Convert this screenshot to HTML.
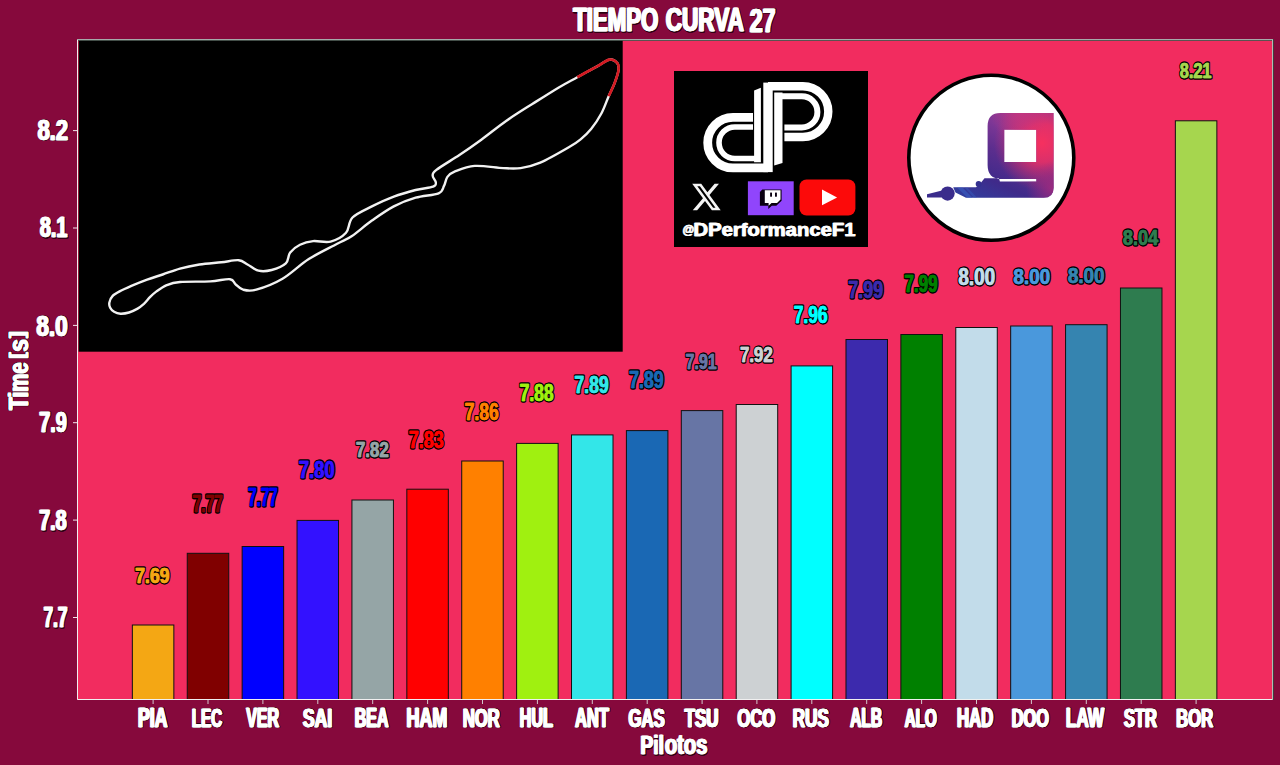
<!DOCTYPE html>
<html><head><meta charset="utf-8"><title>Tiempo Curva 27</title>
<style>
html,body{margin:0;padding:0;background:#86093c;overflow:hidden;}
svg{display:block;}
text{font-family:"Liberation Sans",sans-serif;font-weight:bold;}
</style></head><body>
<svg width="1280" height="765" viewBox="0 0 1280 765">
<defs>
<linearGradient id="gg" gradientUnits="userSpaceOnUse" x1="965" y1="200" x2="1005" y2="112">
<stop offset="0" stop-color="#2f40a0"/><stop offset="0.3" stop-color="#3f2a8a"/><stop offset="0.6" stop-color="#5c2e8e"/><stop offset="0.85" stop-color="#7e3796"/><stop offset="1" stop-color="#8e3994"/>
</linearGradient>
<radialGradient id="gr" gradientUnits="userSpaceOnUse" cx="1042" cy="143" r="48">
<stop offset="0" stop-color="#f6305f" stop-opacity="1"/><stop offset="0.4" stop-color="#ee2f63" stop-opacity="0.85"/><stop offset="1" stop-color="#d02f6c" stop-opacity="0"/>
</radialGradient>
<radialGradient id="gr2" gradientUnits="userSpaceOnUse" cx="1052" cy="188" r="26">
<stop offset="0" stop-color="#a02a7e" stop-opacity="0.9"/><stop offset="1" stop-color="#a02a7e" stop-opacity="0"/>
</radialGradient>
<radialGradient id="gr3" gradientUnits="userSpaceOnUse" cx="1020" cy="112" r="30">
<stop offset="0" stop-color="#c8357e" stop-opacity="0.8"/><stop offset="1" stop-color="#c8357e" stop-opacity="0"/>
</radialGradient>
<text id="t1" transform="translate(682.59 234.21) scale(0.9554 1)" font-size="12.41">@</text>
<text id="t2" transform="translate(693.43 235.97) scale(1.1115 1)" font-size="18.24">DPerformanceF1</text>
<text id="t3" transform="translate(37.54 139.80) scale(0.7298 1)" font-size="30.00">8.2</text>
<text id="t4" transform="translate(39.91 237.11) scale(0.6757 1)" font-size="29.15">8.1</text>
<text id="t5" transform="translate(36.43 335.71) scale(0.7805 1)" font-size="28.73">8.0</text>
<text id="t6" transform="translate(39.21 431.71) scale(0.6775 1)" font-size="29.30">7.9</text>
<text id="t7" transform="translate(39.21 529.91) scale(0.6691 1)" font-size="29.44">7.8</text>
<text id="t8" transform="translate(43.51 627.30) scale(0.5698 1)" font-size="30.14">7.7</text>
<text id="t9" transform="translate(138.01 726.80) scale(0.6475 1)" font-size="27.25">PIA</text>
<text id="t10" transform="translate(191.79 726.54) scale(0.5725 1)" font-size="26.48">LEC</text>
<text id="t11" transform="translate(246.29 726.80) scale(0.5832 1)" font-size="27.25">VER</text>
<text id="t12" transform="translate(302.82 726.54) scale(0.6663 1)" font-size="26.48">SAI</text>
<text id="t13" transform="translate(354.73 726.80) scale(0.5861 1)" font-size="27.25">BEA</text>
<text id="t14" transform="translate(406.49 726.80) scale(0.6586 1)" font-size="27.25">HAM</text>
<text id="t15" transform="translate(462.79 726.54) scale(0.6277 1)" font-size="26.48">NOR</text>
<text id="t16" transform="translate(519.72 726.53) scale(0.6003 1)" font-size="26.86">HUL</text>
<text id="t17" transform="translate(575.06 726.80) scale(0.6032 1)" font-size="27.25">ANT</text>
<text id="t18" transform="translate(628.48 726.54) scale(0.6306 1)" font-size="26.48">GAS</text>
<text id="t19" transform="translate(684.68 726.54) scale(0.6379 1)" font-size="26.48">TSU</text>
<text id="t20" transform="translate(737.39 726.54) scale(0.6266 1)" font-size="26.48">OCO</text>
<text id="t21" transform="translate(792.65 726.54) scale(0.6477 1)" font-size="26.48">RUS</text>
<text id="t22" transform="translate(850.18 726.80) scale(0.5709 1)" font-size="27.25">ALB</text>
<text id="t23" transform="translate(904.69 726.54) scale(0.5739 1)" font-size="26.48">ALO</text>
<text id="t24" transform="translate(956.98 726.80) scale(0.6141 1)" font-size="27.25">HAD</text>
<text id="t25" transform="translate(1011.71 726.54) scale(0.6161 1)" font-size="26.48">DOO</text>
<text id="t26" transform="translate(1065.85 726.80) scale(0.6316 1)" font-size="27.25">LAW</text>
<text id="t27" transform="translate(1123.96 726.54) scale(0.6217 1)" font-size="26.48">STR</text>
<text id="t28" transform="translate(1176.19 726.54) scale(0.6277 1)" font-size="26.48">BOR</text>
<text id="t29" transform="translate(135.04 582.67) scale(0.7829 1)" font-size="22.68">7.69</text>
<text id="t30" transform="translate(192.63 511.60) scale(0.6577 1)" font-size="23.62">7.77</text>
<text id="t31" transform="translate(248.14 505.60) scale(0.6047 1)" font-size="25.07">7.77</text>
<text id="t32" transform="translate(298.92 478.16) scale(0.7634 1)" font-size="23.94">7.80</text>
<text id="t33" transform="translate(355.87 456.68) scale(0.7691 1)" font-size="21.97">7.82</text>
<text id="t34" transform="translate(408.73 447.66) scale(0.7571 1)" font-size="23.80">7.83</text>
<text id="t35" transform="translate(464.65 419.66) scale(0.7326 1)" font-size="23.94">7.86</text>
<text id="t36" transform="translate(519.65 400.76) scale(0.7373 1)" font-size="23.66">7.88</text>
<text id="t37" transform="translate(574.45 392.86) scale(0.7413 1)" font-size="23.66">7.89</text>
<text id="t38" transform="translate(629.14 388.27) scale(0.7663 1)" font-size="23.10">7.89</text>
<text id="t39" transform="translate(685.51 368.87) scale(0.6974 1)" font-size="22.96">7.91</text>
<text id="t40" transform="translate(739.98 361.67) scale(0.7451 1)" font-size="22.54">7.92</text>
<text id="t41" transform="translate(793.75 322.56) scale(0.7281 1)" font-size="23.94">7.96</text>
<text id="t42" transform="translate(848.23 297.66) scale(0.7504 1)" font-size="23.94">7.99</text>
<text id="t43" transform="translate(904.47 292.47) scale(0.7385 1)" font-size="23.10">7.99</text>
<text id="t44" transform="translate(958.39 284.77) scale(0.8100 1)" font-size="23.24">8.00</text>
<text id="t45" transform="translate(1013.38 283.77) scale(0.8325 1)" font-size="22.68">8.00</text>
<text id="t46" transform="translate(1067.78 283.08) scale(0.8703 1)" font-size="21.69">8.00</text>
<text id="t47" transform="translate(1122.91 244.67) scale(0.7989 1)" font-size="22.68">8.04</text>
<text id="t48" transform="translate(1179.76 77.58) scale(0.7370 1)" font-size="22.18">8.21</text>
<text id="t49" transform="translate(573.18 31.17) scale(0.6678 1)" font-size="33.24">TIEMPO</text>
<text id="t50" transform="translate(665.70 31.17) scale(0.6798 1)" font-size="33.24">CURVA</text>
<text id="t51" transform="translate(749.81 31.50) scale(0.6845 1)" font-size="33.71">27</text>
<text id="t52" transform="translate(640.46 754.20) scale(0.7212 1)" font-size="26.58">Pil</text>
<text id="t53" transform="translate(664.79 754.32) scale(0.7324 1)" font-size="27.58">otos</text>
<text id="t54" transform="translate(0.40 -0.17) scale(0.7656 1)" font-size="26.76">Time</text>
<text id="t55" transform="translate(51.67 -4.23) scale(0.9132 1)" font-size="20.64">[</text>
<text id="t56" transform="translate(58.50 -0.18) scale(0.8161 1)" font-size="27.64">s</text>
<text id="t57" transform="translate(72.20 -4.23) scale(0.9870 1)" font-size="20.64">]</text>
</defs>
<rect width="1280" height="765" fill="#86093c"/>
<rect x="77" y="39" width="1196" height="661" fill="#f22c5f"/>
<rect x="78.6" y="40" width="544.1" height="311.7" fill="#000"/>
<path d="M109.4 302.4 C109.8 300.4 110.8 297.9 112.5 296.1 C114.2 294.3 116.4 293.1 119.6 291.4 C122.8 289.7 126.8 287.9 131.4 285.9 C136.0 283.9 141.9 281.5 147.1 279.6 C152.3 277.7 157.2 276.3 162.7 274.5 C168.2 272.7 173.9 270.3 180.0 268.6 C186.1 266.9 192.5 265.6 199.4 264.5 C206.3 263.4 214.7 263.0 221.3 262.3 C227.9 261.6 234.4 259.8 238.8 260.2 C243.2 260.6 244.2 262.8 247.5 264.5 C250.8 266.2 254.5 269.8 258.5 270.7 C262.5 271.6 267.1 271.2 271.6 270.0 C276.2 268.8 282.7 266.3 285.8 263.4 C288.9 260.5 287.8 255.6 290.2 252.5 C292.6 249.4 296.2 246.7 300.0 244.8 C303.8 242.9 308.0 241.6 313.1 241.1 C318.2 240.6 325.1 243.0 330.6 241.6 C336.1 240.2 342.4 236.8 346.0 232.8 C349.6 228.8 348.2 221.9 352.5 217.5 C356.8 213.1 365.0 209.9 371.9 206.4 C378.8 202.9 386.5 199.3 393.8 196.6 C401.1 193.9 409.1 191.7 415.6 190.0 C422.2 188.3 429.7 188.0 433.1 186.7 C436.5 185.4 435.9 184.1 435.8 182.3 C435.7 180.5 432.6 177.9 432.7 175.8 C432.8 173.7 431.9 173.4 436.4 169.9 C440.8 166.4 451.9 160.0 459.4 155.0 C466.9 150.0 473.5 145.4 481.3 139.7 C489.1 134.0 497.6 127.0 506.1 121.0 C514.6 115.0 523.6 109.5 532.3 104.0 C541.0 98.5 550.9 92.2 558.4 87.7 C565.9 83.2 570.8 80.8 577.3 77.2 C583.8 73.6 592.2 69.0 597.6 66.1 C603.0 63.2 606.1 60.1 609.4 59.6 C612.7 59.1 615.7 61.1 617.2 62.9 C618.7 64.6 618.9 66.7 618.5 70.1 C618.1 73.5 616.2 78.8 614.6 83.1 C613.0 87.4 610.9 91.2 608.7 96.2 C606.5 101.2 604.4 107.8 601.5 113.2 C598.6 118.7 594.6 124.6 591.1 128.9 C587.6 133.2 584.3 136.2 580.6 139.3 C576.9 142.4 575.5 143.4 568.8 147.3 C562.1 151.2 548.3 159.2 540.3 162.7 C532.3 166.2 526.8 167.2 520.6 168.1 C514.4 169.0 510.8 168.5 503.1 168.1 C495.5 167.7 482.7 165.3 474.7 165.9 C466.7 166.5 459.6 169.6 455.0 171.4 C450.4 173.2 449.2 174.5 447.4 176.9 C445.6 179.3 445.6 182.9 444.1 185.6 C442.6 188.3 443.4 191.3 438.6 193.3 C433.9 195.3 423.1 195.5 415.6 197.7 C408.1 199.9 401.1 202.6 393.8 206.4 C386.5 210.2 378.9 215.7 371.9 220.6 C364.9 225.5 357.8 232.1 352.0 236.0 C346.2 239.9 344.4 240.0 337.2 243.8 C330.0 247.7 317.9 253.3 308.8 259.1 C299.7 264.9 291.2 273.7 282.5 278.8 C273.8 283.9 262.9 287.9 256.3 289.7 C249.7 291.5 246.6 290.6 243.1 289.7 C239.6 288.8 237.7 285.9 235.5 284.2 C233.3 282.4 234.2 279.7 230.0 279.2 C225.8 278.7 218.6 280.9 210.3 281.4 C202.0 281.9 187.3 281.4 180.0 282.0 C172.7 282.6 170.6 283.5 166.7 285.1 C162.8 286.7 159.2 289.4 156.5 291.4 C153.8 293.4 152.3 294.8 150.2 296.9 C148.1 299.0 146.0 301.9 143.9 303.9 C141.8 305.8 140.1 307.2 137.6 308.6 C135.1 310.0 131.9 311.6 129.0 312.5 C126.1 313.4 122.9 313.8 120.4 313.7 C117.9 313.6 115.8 312.8 114.1 311.8 C112.4 310.8 111.0 309.4 110.2 307.8 C109.4 306.2 109.0 304.3 109.4 302.4 Z" fill="none" stroke="#f2f2f2" stroke-width="2.4" stroke-linejoin="round"/>
<path d="M577.3 77.2 C583.8 73.6 592.2 69.0 597.6 66.1 C603.0 63.2 606.1 60.1 609.4 59.6 C612.7 59.1 615.7 61.1 617.2 62.9 C618.7 64.6 618.9 66.7 618.5 70.1 C618.1 73.5 616.2 78.8 614.6 83.1 C613.0 87.4 610.9 91.2 608.7 96.2" fill="none" stroke="#d31a22" stroke-width="2.7" stroke-linecap="butt"/>
<rect x="674" y="71" width="194" height="176" fill="#000"/>
<g fill="none" stroke="#fff">
<path d="M753 117.35 H733 A25.3 25.3 0 0 0 733 167.95 H768" stroke-width="8.8"/>
<path d="M753 126.95 H734.8 A15.8 15.8 0 0 0 734.8 158.55 H758" stroke-width="5.6"/>
<path d="M768 86.2 H802.9 A25.4 25.4 0 0 1 802.9 137 H784.4" stroke-width="8.4"/>
<path d="M778 96.3 H801.8 A15.6 15.6 0 0 1 801.8 127.5 H784.4" stroke-width="6"/>
</g>
<g fill="#fff">
<rect x="763.3" y="82.6" width="9.4" height="89.5"/>
<polygon points="754.1,90.4 760.9,87.8 760.9,162.3 754.1,162.3"/>
<polygon points="774.2,92.4 782.5,92.4 782.5,163 774.2,165.6"/>
</g>
<path transform="translate(692.2 183.8) scale(1.32 1.36) translate(-1.254 -2.25)" d="M18.244 2.25h3.308l-7.227 8.26 8.502 11.24H16.17l-5.214-6.817L4.99 21.75H1.68l7.73-8.835L1.254 2.25H8.08l4.713 6.231zm-1.161 17.52h1.833L7.084 4.126H5.117z" fill="#f4f4f4"/>
<rect x="747.9" y="181.3" width="45.8" height="33.9" fill="#9045fc"/>
<path d="M762.3 189.4 H781.6 V200.8 L776.3 205.8 H771.8 L768.3 209 V205.8 H759.9 V191.9 Z" fill="#0a0010"/>
<path d="M764.8 190.3 H780.5 V199.6 L777 203 H771.5 L768.6 205.7 V203 H764.8 Z" fill="#fff"/>
<rect x="770.1" y="192.6" width="1.9" height="4.1" fill="#0a0010"/><rect x="775" y="192.6" width="1.9" height="4.1" fill="#0a0010"/>
<rect x="799.5" y="179.4" width="55.9" height="36.1" rx="7" fill="#fc0a0a"/>
<path d="M822 189.6 L837.1 197.5 L822 205.3 Z" fill="#fff"/>
<g fill="#fff" stroke="#fff" stroke-width="0.30" stroke-linejoin="round">
<use href="#t1" x="-0.30"/>
<use href="#t1" x="0.30"/>
</g>
<g fill="#fff" stroke="#fff" stroke-width="0.35" stroke-linejoin="round">
<use href="#t2" x="-0.35"/>
<use href="#t2" x="0.35"/>
</g>
<circle cx="991.3" cy="157.8" r="82.5" fill="#fff" stroke="#000" stroke-width="3.6"/>
<g>
<path d="M1000.6 113.1 H1053.6 V187.8 Q1053.6 197.8 1043.6 197.8 H966 L955.5 192.5 L953.2 187.3 H976 L979.5 184.5 L984.5 178.3 H999 L999.9 181.5 H1036.3 V178.9 H1001 Q987.6 178.9 987.6 165 V126.1 Q987.6 113.1 1000.6 113.1 Z M1004.3 129.8 V161.9 H1036.3 V129.8 Z" fill="url(#gg)" fill-rule="evenodd"/>
<path d="M1000.6 113.1 H1053.6 V187.8 Q1053.6 197.8 1043.6 197.8 H990 V181.5 H1036.3 V178.9 H1001 Q987.6 178.9 987.6 165 V126.1 Q987.6 113.1 1000.6 113.1 Z M1004.3 129.8 V161.9 H1036.3 V129.8 Z" fill="url(#gr)" fill-rule="evenodd"/>
<path d="M1000.6 113.1 H1053.6 V187.8 Q1053.6 197.8 1043.6 197.8 H990 V181.5 H1036.3 V178.9 H1001 Q987.6 178.9 987.6 165 V126.1 Q987.6 113.1 1000.6 113.1 Z M1004.3 129.8 V161.9 H1036.3 V129.8 Z" fill="url(#gr2)" fill-rule="evenodd"/>
<path d="M1000.6 113.1 H1053.6 V140 H987.6 V126.1 Q987.6 113.1 1000.6 113.1 Z M1004.3 129.8 V140 H1036.3 V129.8 Z" fill="url(#gr3)" fill-rule="evenodd"/>
<path d="M957 187.4 H962.5 L972.5 197.8 H967.5 Z" fill="#3a62c4" opacity="0.55"/>
<path d="M964.5 187.4 H967.5 L977 197.8 H974 Z" fill="#3a62c4" opacity="0.4"/>
<circle cx="978.6" cy="183.9" r="2.9" fill="#33308f"/>
<circle cx="947.6" cy="193.6" r="7.1" fill="#3a2c8c"/>
<path d="M927 194.3 L941 190.8 L943 197.6 H927 Z" fill="#3a2c8c"/>
</g>
<rect x="132.35" y="625.00" width="41.5" height="74.50" fill="#f4a714" stroke="#111" stroke-width="1"/>
<rect x="187.25" y="553.30" width="41.5" height="146.20" fill="#800000" stroke="#111" stroke-width="1"/>
<rect x="242.14" y="546.50" width="41.5" height="153.00" fill="#0000ff" stroke="#111" stroke-width="1"/>
<rect x="297.03" y="520.40" width="41.5" height="179.10" fill="#3311ff" stroke="#111" stroke-width="1"/>
<rect x="351.93" y="500.00" width="41.5" height="199.50" fill="#95a5a6" stroke="#111" stroke-width="1"/>
<rect x="406.83" y="489.20" width="41.5" height="210.30" fill="#ff0000" stroke="#111" stroke-width="1"/>
<rect x="461.72" y="461.00" width="41.5" height="238.50" fill="#ff8000" stroke="#111" stroke-width="1"/>
<rect x="516.62" y="443.40" width="41.5" height="256.10" fill="#a0f010" stroke="#111" stroke-width="1"/>
<rect x="571.51" y="434.90" width="41.5" height="264.60" fill="#33e6e8" stroke="#111" stroke-width="1"/>
<rect x="626.40" y="430.60" width="41.5" height="268.90" fill="#1a68b4" stroke="#111" stroke-width="1"/>
<rect x="681.30" y="410.60" width="41.5" height="288.90" fill="#6775a5" stroke="#111" stroke-width="1"/>
<rect x="736.20" y="404.50" width="41.5" height="295.00" fill="#cdd1d3" stroke="#111" stroke-width="1"/>
<rect x="791.09" y="365.90" width="41.5" height="333.60" fill="#00ffff" stroke="#111" stroke-width="1"/>
<rect x="845.99" y="339.50" width="41.5" height="360.00" fill="#3c2aad" stroke="#111" stroke-width="1"/>
<rect x="900.88" y="334.50" width="41.5" height="365.00" fill="#008000" stroke="#111" stroke-width="1"/>
<rect x="955.78" y="327.50" width="41.5" height="372.00" fill="#c2dcea" stroke="#111" stroke-width="1"/>
<rect x="1010.67" y="326.00" width="41.5" height="373.50" fill="#4a98dc" stroke="#111" stroke-width="1"/>
<rect x="1065.57" y="324.70" width="41.5" height="374.80" fill="#3584b0" stroke="#111" stroke-width="1"/>
<rect x="1120.46" y="288.00" width="41.5" height="411.50" fill="#2e7c4f" stroke="#111" stroke-width="1"/>
<rect x="1175.36" y="120.80" width="41.5" height="578.70" fill="#a6d64e" stroke="#111" stroke-width="1"/>
<path d="M77.5 39 V699.5 H1273" fill="none" stroke="#f0f0f0" stroke-width="1"/>
<path d="M1272.5 39 V700" fill="none" stroke="#b4b8b4" stroke-width="1"/>
<path d="M1273.5 39 V700" fill="none" stroke="#3a423e" stroke-width="1" opacity="0.9"/>
<path d="M77 39.5 H1273" fill="none" stroke="#a6aaaa" stroke-width="1"/>
<path d="M78 40.5 H1272" fill="none" stroke="#4a5650" stroke-width="1" opacity="0.9"/>
<line x1="73" x2="77" y1="130.6" y2="130.6" stroke="#fff" stroke-width="0.9"/>
<line x1="73" x2="77" y1="228.0" y2="228.0" stroke="#fff" stroke-width="0.9"/>
<line x1="73" x2="77" y1="325.4" y2="325.4" stroke="#fff" stroke-width="0.9"/>
<line x1="73" x2="77" y1="422.7" y2="422.7" stroke="#fff" stroke-width="0.9"/>
<line x1="73" x2="77" y1="520.1" y2="520.1" stroke="#fff" stroke-width="0.9"/>
<line x1="73" x2="77" y1="617.5" y2="617.5" stroke="#fff" stroke-width="0.9"/>
<line x1="153.1" x2="153.1" y1="700" y2="704" stroke="#ddd" stroke-width="0.9"/>
<line x1="208.0" x2="208.0" y1="700" y2="704" stroke="#ddd" stroke-width="0.9"/>
<line x1="262.9" x2="262.9" y1="700" y2="704" stroke="#ddd" stroke-width="0.9"/>
<line x1="317.8" x2="317.8" y1="700" y2="704" stroke="#ddd" stroke-width="0.9"/>
<line x1="372.7" x2="372.7" y1="700" y2="704" stroke="#ddd" stroke-width="0.9"/>
<line x1="427.6" x2="427.6" y1="700" y2="704" stroke="#ddd" stroke-width="0.9"/>
<line x1="482.5" x2="482.5" y1="700" y2="704" stroke="#ddd" stroke-width="0.9"/>
<line x1="537.4" x2="537.4" y1="700" y2="704" stroke="#ddd" stroke-width="0.9"/>
<line x1="592.3" x2="592.3" y1="700" y2="704" stroke="#ddd" stroke-width="0.9"/>
<line x1="647.2" x2="647.2" y1="700" y2="704" stroke="#ddd" stroke-width="0.9"/>
<line x1="702.1" x2="702.1" y1="700" y2="704" stroke="#ddd" stroke-width="0.9"/>
<line x1="756.9" x2="756.9" y1="700" y2="704" stroke="#ddd" stroke-width="0.9"/>
<line x1="811.8" x2="811.8" y1="700" y2="704" stroke="#ddd" stroke-width="0.9"/>
<line x1="866.7" x2="866.7" y1="700" y2="704" stroke="#ddd" stroke-width="0.9"/>
<line x1="921.6" x2="921.6" y1="700" y2="704" stroke="#ddd" stroke-width="0.9"/>
<line x1="976.5" x2="976.5" y1="700" y2="704" stroke="#ddd" stroke-width="0.9"/>
<line x1="1031.4" x2="1031.4" y1="700" y2="704" stroke="#ddd" stroke-width="0.9"/>
<line x1="1086.3" x2="1086.3" y1="700" y2="704" stroke="#ddd" stroke-width="0.9"/>
<line x1="1141.2" x2="1141.2" y1="700" y2="704" stroke="#ddd" stroke-width="0.9"/>
<line x1="1196.1" x2="1196.1" y1="700" y2="704" stroke="#ddd" stroke-width="0.9"/>
<g fill="#2a0010" stroke="#2a0010" stroke-width="1.10" stroke-linejoin="round">
<use href="#t3" x="0.00" y="0.60"/>
<use href="#t3" x="0.60" y="0.60"/>
<use href="#t3" x="1.20" y="0.60"/>
</g>
<g fill="#fff" stroke="#fff" stroke-width="0.40" stroke-linejoin="round">
<use href="#t3" x="-0.60"/>
<use href="#t3" x="0.00"/>
<use href="#t3" x="0.60"/>
</g>
<g fill="#2a0010" stroke="#2a0010" stroke-width="1.10" stroke-linejoin="round">
<use href="#t4" x="0.00" y="0.60"/>
<use href="#t4" x="0.60" y="0.60"/>
<use href="#t4" x="1.20" y="0.60"/>
</g>
<g fill="#fff" stroke="#fff" stroke-width="0.40" stroke-linejoin="round">
<use href="#t4" x="-0.60"/>
<use href="#t4" x="0.00"/>
<use href="#t4" x="0.60"/>
</g>
<g fill="#2a0010" stroke="#2a0010" stroke-width="1.10" stroke-linejoin="round">
<use href="#t5" x="0.00" y="0.60"/>
<use href="#t5" x="0.60" y="0.60"/>
<use href="#t5" x="1.20" y="0.60"/>
</g>
<g fill="#fff" stroke="#fff" stroke-width="0.40" stroke-linejoin="round">
<use href="#t5" x="-0.60"/>
<use href="#t5" x="0.00"/>
<use href="#t5" x="0.60"/>
</g>
<g fill="#2a0010" stroke="#2a0010" stroke-width="1.10" stroke-linejoin="round">
<use href="#t6" x="0.00" y="0.60"/>
<use href="#t6" x="0.60" y="0.60"/>
<use href="#t6" x="1.20" y="0.60"/>
</g>
<g fill="#fff" stroke="#fff" stroke-width="0.40" stroke-linejoin="round">
<use href="#t6" x="-0.60"/>
<use href="#t6" x="0.00"/>
<use href="#t6" x="0.60"/>
</g>
<g fill="#2a0010" stroke="#2a0010" stroke-width="1.10" stroke-linejoin="round">
<use href="#t7" x="0.00" y="0.60"/>
<use href="#t7" x="0.60" y="0.60"/>
<use href="#t7" x="1.20" y="0.60"/>
</g>
<g fill="#fff" stroke="#fff" stroke-width="0.40" stroke-linejoin="round">
<use href="#t7" x="-0.60"/>
<use href="#t7" x="0.00"/>
<use href="#t7" x="0.60"/>
</g>
<g fill="#2a0010" stroke="#2a0010" stroke-width="1.10" stroke-linejoin="round">
<use href="#t8" x="0.00" y="0.60"/>
<use href="#t8" x="0.60" y="0.60"/>
<use href="#t8" x="1.20" y="0.60"/>
</g>
<g fill="#fff" stroke="#fff" stroke-width="0.40" stroke-linejoin="round">
<use href="#t8" x="-0.60"/>
<use href="#t8" x="0.00"/>
<use href="#t8" x="0.60"/>
</g>
<g fill="#2a0010" stroke="#2a0010" stroke-width="1.10" stroke-linejoin="round">
<use href="#t9" x="-0.05" y="0.60"/>
<use href="#t9" x="0.38" y="0.60"/>
<use href="#t9" x="0.82" y="0.60"/>
<use href="#t9" x="1.25" y="0.60"/>
</g>
<g fill="#fff" stroke="#fff" stroke-width="0.40" stroke-linejoin="round">
<use href="#t9" x="-0.65"/>
<use href="#t9" x="-0.22"/>
<use href="#t9" x="0.22"/>
<use href="#t9" x="0.65"/>
</g>
<g fill="#2a0010" stroke="#2a0010" stroke-width="1.10" stroke-linejoin="round">
<use href="#t10" x="-0.05" y="0.60"/>
<use href="#t10" x="0.38" y="0.60"/>
<use href="#t10" x="0.82" y="0.60"/>
<use href="#t10" x="1.25" y="0.60"/>
</g>
<g fill="#fff" stroke="#fff" stroke-width="0.40" stroke-linejoin="round">
<use href="#t10" x="-0.65"/>
<use href="#t10" x="-0.22"/>
<use href="#t10" x="0.22"/>
<use href="#t10" x="0.65"/>
</g>
<g fill="#2a0010" stroke="#2a0010" stroke-width="1.10" stroke-linejoin="round">
<use href="#t11" x="-0.05" y="0.60"/>
<use href="#t11" x="0.38" y="0.60"/>
<use href="#t11" x="0.82" y="0.60"/>
<use href="#t11" x="1.25" y="0.60"/>
</g>
<g fill="#fff" stroke="#fff" stroke-width="0.40" stroke-linejoin="round">
<use href="#t11" x="-0.65"/>
<use href="#t11" x="-0.22"/>
<use href="#t11" x="0.22"/>
<use href="#t11" x="0.65"/>
</g>
<g fill="#2a0010" stroke="#2a0010" stroke-width="1.10" stroke-linejoin="round">
<use href="#t12" x="-0.05" y="0.60"/>
<use href="#t12" x="0.38" y="0.60"/>
<use href="#t12" x="0.82" y="0.60"/>
<use href="#t12" x="1.25" y="0.60"/>
</g>
<g fill="#fff" stroke="#fff" stroke-width="0.40" stroke-linejoin="round">
<use href="#t12" x="-0.65"/>
<use href="#t12" x="-0.22"/>
<use href="#t12" x="0.22"/>
<use href="#t12" x="0.65"/>
</g>
<g fill="#2a0010" stroke="#2a0010" stroke-width="1.10" stroke-linejoin="round">
<use href="#t13" x="-0.05" y="0.60"/>
<use href="#t13" x="0.38" y="0.60"/>
<use href="#t13" x="0.82" y="0.60"/>
<use href="#t13" x="1.25" y="0.60"/>
</g>
<g fill="#fff" stroke="#fff" stroke-width="0.40" stroke-linejoin="round">
<use href="#t13" x="-0.65"/>
<use href="#t13" x="-0.22"/>
<use href="#t13" x="0.22"/>
<use href="#t13" x="0.65"/>
</g>
<g fill="#2a0010" stroke="#2a0010" stroke-width="1.10" stroke-linejoin="round">
<use href="#t14" x="-0.05" y="0.60"/>
<use href="#t14" x="0.38" y="0.60"/>
<use href="#t14" x="0.82" y="0.60"/>
<use href="#t14" x="1.25" y="0.60"/>
</g>
<g fill="#fff" stroke="#fff" stroke-width="0.40" stroke-linejoin="round">
<use href="#t14" x="-0.65"/>
<use href="#t14" x="-0.22"/>
<use href="#t14" x="0.22"/>
<use href="#t14" x="0.65"/>
</g>
<g fill="#2a0010" stroke="#2a0010" stroke-width="1.10" stroke-linejoin="round">
<use href="#t15" x="-0.05" y="0.60"/>
<use href="#t15" x="0.38" y="0.60"/>
<use href="#t15" x="0.82" y="0.60"/>
<use href="#t15" x="1.25" y="0.60"/>
</g>
<g fill="#fff" stroke="#fff" stroke-width="0.40" stroke-linejoin="round">
<use href="#t15" x="-0.65"/>
<use href="#t15" x="-0.22"/>
<use href="#t15" x="0.22"/>
<use href="#t15" x="0.65"/>
</g>
<g fill="#2a0010" stroke="#2a0010" stroke-width="1.10" stroke-linejoin="round">
<use href="#t16" x="-0.05" y="0.60"/>
<use href="#t16" x="0.38" y="0.60"/>
<use href="#t16" x="0.82" y="0.60"/>
<use href="#t16" x="1.25" y="0.60"/>
</g>
<g fill="#fff" stroke="#fff" stroke-width="0.40" stroke-linejoin="round">
<use href="#t16" x="-0.65"/>
<use href="#t16" x="-0.22"/>
<use href="#t16" x="0.22"/>
<use href="#t16" x="0.65"/>
</g>
<g fill="#2a0010" stroke="#2a0010" stroke-width="1.10" stroke-linejoin="round">
<use href="#t17" x="-0.05" y="0.60"/>
<use href="#t17" x="0.38" y="0.60"/>
<use href="#t17" x="0.82" y="0.60"/>
<use href="#t17" x="1.25" y="0.60"/>
</g>
<g fill="#fff" stroke="#fff" stroke-width="0.40" stroke-linejoin="round">
<use href="#t17" x="-0.65"/>
<use href="#t17" x="-0.22"/>
<use href="#t17" x="0.22"/>
<use href="#t17" x="0.65"/>
</g>
<g fill="#2a0010" stroke="#2a0010" stroke-width="1.10" stroke-linejoin="round">
<use href="#t18" x="-0.05" y="0.60"/>
<use href="#t18" x="0.38" y="0.60"/>
<use href="#t18" x="0.82" y="0.60"/>
<use href="#t18" x="1.25" y="0.60"/>
</g>
<g fill="#fff" stroke="#fff" stroke-width="0.40" stroke-linejoin="round">
<use href="#t18" x="-0.65"/>
<use href="#t18" x="-0.22"/>
<use href="#t18" x="0.22"/>
<use href="#t18" x="0.65"/>
</g>
<g fill="#2a0010" stroke="#2a0010" stroke-width="1.10" stroke-linejoin="round">
<use href="#t19" x="-0.05" y="0.60"/>
<use href="#t19" x="0.38" y="0.60"/>
<use href="#t19" x="0.82" y="0.60"/>
<use href="#t19" x="1.25" y="0.60"/>
</g>
<g fill="#fff" stroke="#fff" stroke-width="0.40" stroke-linejoin="round">
<use href="#t19" x="-0.65"/>
<use href="#t19" x="-0.22"/>
<use href="#t19" x="0.22"/>
<use href="#t19" x="0.65"/>
</g>
<g fill="#2a0010" stroke="#2a0010" stroke-width="1.10" stroke-linejoin="round">
<use href="#t20" x="-0.05" y="0.60"/>
<use href="#t20" x="0.38" y="0.60"/>
<use href="#t20" x="0.82" y="0.60"/>
<use href="#t20" x="1.25" y="0.60"/>
</g>
<g fill="#fff" stroke="#fff" stroke-width="0.40" stroke-linejoin="round">
<use href="#t20" x="-0.65"/>
<use href="#t20" x="-0.22"/>
<use href="#t20" x="0.22"/>
<use href="#t20" x="0.65"/>
</g>
<g fill="#2a0010" stroke="#2a0010" stroke-width="1.10" stroke-linejoin="round">
<use href="#t21" x="-0.05" y="0.60"/>
<use href="#t21" x="0.38" y="0.60"/>
<use href="#t21" x="0.82" y="0.60"/>
<use href="#t21" x="1.25" y="0.60"/>
</g>
<g fill="#fff" stroke="#fff" stroke-width="0.40" stroke-linejoin="round">
<use href="#t21" x="-0.65"/>
<use href="#t21" x="-0.22"/>
<use href="#t21" x="0.22"/>
<use href="#t21" x="0.65"/>
</g>
<g fill="#2a0010" stroke="#2a0010" stroke-width="1.10" stroke-linejoin="round">
<use href="#t22" x="-0.05" y="0.60"/>
<use href="#t22" x="0.38" y="0.60"/>
<use href="#t22" x="0.82" y="0.60"/>
<use href="#t22" x="1.25" y="0.60"/>
</g>
<g fill="#fff" stroke="#fff" stroke-width="0.40" stroke-linejoin="round">
<use href="#t22" x="-0.65"/>
<use href="#t22" x="-0.22"/>
<use href="#t22" x="0.22"/>
<use href="#t22" x="0.65"/>
</g>
<g fill="#2a0010" stroke="#2a0010" stroke-width="1.10" stroke-linejoin="round">
<use href="#t23" x="-0.05" y="0.60"/>
<use href="#t23" x="0.38" y="0.60"/>
<use href="#t23" x="0.82" y="0.60"/>
<use href="#t23" x="1.25" y="0.60"/>
</g>
<g fill="#fff" stroke="#fff" stroke-width="0.40" stroke-linejoin="round">
<use href="#t23" x="-0.65"/>
<use href="#t23" x="-0.22"/>
<use href="#t23" x="0.22"/>
<use href="#t23" x="0.65"/>
</g>
<g fill="#2a0010" stroke="#2a0010" stroke-width="1.10" stroke-linejoin="round">
<use href="#t24" x="-0.05" y="0.60"/>
<use href="#t24" x="0.38" y="0.60"/>
<use href="#t24" x="0.82" y="0.60"/>
<use href="#t24" x="1.25" y="0.60"/>
</g>
<g fill="#fff" stroke="#fff" stroke-width="0.40" stroke-linejoin="round">
<use href="#t24" x="-0.65"/>
<use href="#t24" x="-0.22"/>
<use href="#t24" x="0.22"/>
<use href="#t24" x="0.65"/>
</g>
<g fill="#2a0010" stroke="#2a0010" stroke-width="1.10" stroke-linejoin="round">
<use href="#t25" x="-0.05" y="0.60"/>
<use href="#t25" x="0.38" y="0.60"/>
<use href="#t25" x="0.82" y="0.60"/>
<use href="#t25" x="1.25" y="0.60"/>
</g>
<g fill="#fff" stroke="#fff" stroke-width="0.40" stroke-linejoin="round">
<use href="#t25" x="-0.65"/>
<use href="#t25" x="-0.22"/>
<use href="#t25" x="0.22"/>
<use href="#t25" x="0.65"/>
</g>
<g fill="#2a0010" stroke="#2a0010" stroke-width="1.10" stroke-linejoin="round">
<use href="#t26" x="-0.05" y="0.60"/>
<use href="#t26" x="0.38" y="0.60"/>
<use href="#t26" x="0.82" y="0.60"/>
<use href="#t26" x="1.25" y="0.60"/>
</g>
<g fill="#fff" stroke="#fff" stroke-width="0.40" stroke-linejoin="round">
<use href="#t26" x="-0.65"/>
<use href="#t26" x="-0.22"/>
<use href="#t26" x="0.22"/>
<use href="#t26" x="0.65"/>
</g>
<g fill="#2a0010" stroke="#2a0010" stroke-width="1.10" stroke-linejoin="round">
<use href="#t27" x="-0.05" y="0.60"/>
<use href="#t27" x="0.38" y="0.60"/>
<use href="#t27" x="0.82" y="0.60"/>
<use href="#t27" x="1.25" y="0.60"/>
</g>
<g fill="#fff" stroke="#fff" stroke-width="0.40" stroke-linejoin="round">
<use href="#t27" x="-0.65"/>
<use href="#t27" x="-0.22"/>
<use href="#t27" x="0.22"/>
<use href="#t27" x="0.65"/>
</g>
<g fill="#2a0010" stroke="#2a0010" stroke-width="1.10" stroke-linejoin="round">
<use href="#t28" x="-0.05" y="0.60"/>
<use href="#t28" x="0.38" y="0.60"/>
<use href="#t28" x="0.82" y="0.60"/>
<use href="#t28" x="1.25" y="0.60"/>
</g>
<g fill="#fff" stroke="#fff" stroke-width="0.40" stroke-linejoin="round">
<use href="#t28" x="-0.65"/>
<use href="#t28" x="-0.22"/>
<use href="#t28" x="0.22"/>
<use href="#t28" x="0.65"/>
</g>
<g fill="#000" stroke="#000" stroke-width="2.90" stroke-linejoin="round">
<use href="#t29" x="-0.35"/>
<use href="#t29" x="0.35"/>
</g>
<g fill="#f4a714" stroke="#f4a714" stroke-width="0.30" stroke-linejoin="round">
<use href="#t29" x="-0.35"/>
<use href="#t29" x="0.35"/>
</g>
<g fill="#000" stroke="#000" stroke-width="2.90" stroke-linejoin="round">
<use href="#t30" x="-0.35"/>
<use href="#t30" x="0.35"/>
</g>
<g fill="#800000" stroke="#800000" stroke-width="0.30" stroke-linejoin="round">
<use href="#t30" x="-0.35"/>
<use href="#t30" x="0.35"/>
</g>
<g fill="#000" stroke="#000" stroke-width="2.90" stroke-linejoin="round">
<use href="#t31" x="-0.35"/>
<use href="#t31" x="0.35"/>
</g>
<g fill="#0000ff" stroke="#0000ff" stroke-width="0.30" stroke-linejoin="round">
<use href="#t31" x="-0.35"/>
<use href="#t31" x="0.35"/>
</g>
<g fill="#000" stroke="#000" stroke-width="2.90" stroke-linejoin="round">
<use href="#t32" x="-0.35"/>
<use href="#t32" x="0.35"/>
</g>
<g fill="#3311ff" stroke="#3311ff" stroke-width="0.30" stroke-linejoin="round">
<use href="#t32" x="-0.35"/>
<use href="#t32" x="0.35"/>
</g>
<g fill="#000" stroke="#000" stroke-width="2.90" stroke-linejoin="round">
<use href="#t33" x="-0.35"/>
<use href="#t33" x="0.35"/>
</g>
<g fill="#95a5a6" stroke="#95a5a6" stroke-width="0.30" stroke-linejoin="round">
<use href="#t33" x="-0.35"/>
<use href="#t33" x="0.35"/>
</g>
<g fill="#000" stroke="#000" stroke-width="2.90" stroke-linejoin="round">
<use href="#t34" x="-0.35"/>
<use href="#t34" x="0.35"/>
</g>
<g fill="#ff0000" stroke="#ff0000" stroke-width="0.30" stroke-linejoin="round">
<use href="#t34" x="-0.35"/>
<use href="#t34" x="0.35"/>
</g>
<g fill="#000" stroke="#000" stroke-width="2.90" stroke-linejoin="round">
<use href="#t35" x="-0.35"/>
<use href="#t35" x="0.35"/>
</g>
<g fill="#ff8000" stroke="#ff8000" stroke-width="0.30" stroke-linejoin="round">
<use href="#t35" x="-0.35"/>
<use href="#t35" x="0.35"/>
</g>
<g fill="#000" stroke="#000" stroke-width="2.90" stroke-linejoin="round">
<use href="#t36" x="-0.35"/>
<use href="#t36" x="0.35"/>
</g>
<g fill="#a0f010" stroke="#a0f010" stroke-width="0.30" stroke-linejoin="round">
<use href="#t36" x="-0.35"/>
<use href="#t36" x="0.35"/>
</g>
<g fill="#000" stroke="#000" stroke-width="2.90" stroke-linejoin="round">
<use href="#t37" x="-0.35"/>
<use href="#t37" x="0.35"/>
</g>
<g fill="#33e6e8" stroke="#33e6e8" stroke-width="0.30" stroke-linejoin="round">
<use href="#t37" x="-0.35"/>
<use href="#t37" x="0.35"/>
</g>
<g fill="#000" stroke="#000" stroke-width="2.90" stroke-linejoin="round">
<use href="#t38" x="-0.35"/>
<use href="#t38" x="0.35"/>
</g>
<g fill="#1a68b4" stroke="#1a68b4" stroke-width="0.30" stroke-linejoin="round">
<use href="#t38" x="-0.35"/>
<use href="#t38" x="0.35"/>
</g>
<g fill="#000" stroke="#000" stroke-width="2.90" stroke-linejoin="round">
<use href="#t39" x="-0.35"/>
<use href="#t39" x="0.35"/>
</g>
<g fill="#6775a5" stroke="#6775a5" stroke-width="0.30" stroke-linejoin="round">
<use href="#t39" x="-0.35"/>
<use href="#t39" x="0.35"/>
</g>
<g fill="#000" stroke="#000" stroke-width="2.90" stroke-linejoin="round">
<use href="#t40" x="-0.35"/>
<use href="#t40" x="0.35"/>
</g>
<g fill="#cdd1d3" stroke="#cdd1d3" stroke-width="0.30" stroke-linejoin="round">
<use href="#t40" x="-0.35"/>
<use href="#t40" x="0.35"/>
</g>
<g fill="#000" stroke="#000" stroke-width="2.90" stroke-linejoin="round">
<use href="#t41" x="-0.35"/>
<use href="#t41" x="0.35"/>
</g>
<g fill="#00ffff" stroke="#00ffff" stroke-width="0.30" stroke-linejoin="round">
<use href="#t41" x="-0.35"/>
<use href="#t41" x="0.35"/>
</g>
<g fill="#000" stroke="#000" stroke-width="2.90" stroke-linejoin="round">
<use href="#t42" x="-0.35"/>
<use href="#t42" x="0.35"/>
</g>
<g fill="#3c2aad" stroke="#3c2aad" stroke-width="0.30" stroke-linejoin="round">
<use href="#t42" x="-0.35"/>
<use href="#t42" x="0.35"/>
</g>
<g fill="#000" stroke="#000" stroke-width="2.90" stroke-linejoin="round">
<use href="#t43" x="-0.35"/>
<use href="#t43" x="0.35"/>
</g>
<g fill="#008000" stroke="#008000" stroke-width="0.30" stroke-linejoin="round">
<use href="#t43" x="-0.35"/>
<use href="#t43" x="0.35"/>
</g>
<g fill="#000" stroke="#000" stroke-width="2.90" stroke-linejoin="round">
<use href="#t44" x="-0.35"/>
<use href="#t44" x="0.35"/>
</g>
<g fill="#c2dcea" stroke="#c2dcea" stroke-width="0.30" stroke-linejoin="round">
<use href="#t44" x="-0.35"/>
<use href="#t44" x="0.35"/>
</g>
<g fill="#000" stroke="#000" stroke-width="2.90" stroke-linejoin="round">
<use href="#t45" x="-0.35"/>
<use href="#t45" x="0.35"/>
</g>
<g fill="#4a98dc" stroke="#4a98dc" stroke-width="0.30" stroke-linejoin="round">
<use href="#t45" x="-0.35"/>
<use href="#t45" x="0.35"/>
</g>
<g fill="#000" stroke="#000" stroke-width="2.90" stroke-linejoin="round">
<use href="#t46" x="-0.35"/>
<use href="#t46" x="0.35"/>
</g>
<g fill="#3584b0" stroke="#3584b0" stroke-width="0.30" stroke-linejoin="round">
<use href="#t46" x="-0.35"/>
<use href="#t46" x="0.35"/>
</g>
<g fill="#000" stroke="#000" stroke-width="2.90" stroke-linejoin="round">
<use href="#t47" x="-0.35"/>
<use href="#t47" x="0.35"/>
</g>
<g fill="#2e7c4f" stroke="#2e7c4f" stroke-width="0.30" stroke-linejoin="round">
<use href="#t47" x="-0.35"/>
<use href="#t47" x="0.35"/>
</g>
<g fill="#000" stroke="#000" stroke-width="2.90" stroke-linejoin="round">
<use href="#t48" x="-0.35"/>
<use href="#t48" x="0.35"/>
</g>
<g fill="#a6d64e" stroke="#a6d64e" stroke-width="0.30" stroke-linejoin="round">
<use href="#t48" x="-0.35"/>
<use href="#t48" x="0.35"/>
</g>
<g fill="#2a0010" stroke="#2a0010" stroke-width="1.10" stroke-linejoin="round">
<use href="#t49" x="-0.10" y="0.60"/>
<use href="#t49" x="0.37" y="0.60"/>
<use href="#t49" x="0.83" y="0.60"/>
<use href="#t49" x="1.30" y="0.60"/>
</g>
<g fill="#fff" stroke="#fff" stroke-width="0.40" stroke-linejoin="round">
<use href="#t49" x="-0.70"/>
<use href="#t49" x="-0.23"/>
<use href="#t49" x="0.23"/>
<use href="#t49" x="0.70"/>
</g>
<g fill="#2a0010" stroke="#2a0010" stroke-width="1.10" stroke-linejoin="round">
<use href="#t50" x="-0.10" y="0.60"/>
<use href="#t50" x="0.37" y="0.60"/>
<use href="#t50" x="0.83" y="0.60"/>
<use href="#t50" x="1.30" y="0.60"/>
</g>
<g fill="#fff" stroke="#fff" stroke-width="0.40" stroke-linejoin="round">
<use href="#t50" x="-0.70"/>
<use href="#t50" x="-0.23"/>
<use href="#t50" x="0.23"/>
<use href="#t50" x="0.70"/>
</g>
<g fill="#2a0010" stroke="#2a0010" stroke-width="1.10" stroke-linejoin="round">
<use href="#t51" x="-0.10" y="0.60"/>
<use href="#t51" x="0.37" y="0.60"/>
<use href="#t51" x="0.83" y="0.60"/>
<use href="#t51" x="1.30" y="0.60"/>
</g>
<g fill="#fff" stroke="#fff" stroke-width="0.40" stroke-linejoin="round">
<use href="#t51" x="-0.70"/>
<use href="#t51" x="-0.23"/>
<use href="#t51" x="0.23"/>
<use href="#t51" x="0.70"/>
</g>
<g fill="#2a0010" stroke="#2a0010" stroke-width="1.10" stroke-linejoin="round">
<use href="#t52" x="0.00" y="0.60"/>
<use href="#t52" x="0.60" y="0.60"/>
<use href="#t52" x="1.20" y="0.60"/>
</g>
<g fill="#fff" stroke="#fff" stroke-width="0.40" stroke-linejoin="round">
<use href="#t52" x="-0.60"/>
<use href="#t52" x="0.00"/>
<use href="#t52" x="0.60"/>
</g>
<g fill="#2a0010" stroke="#2a0010" stroke-width="1.10" stroke-linejoin="round">
<use href="#t53" x="0.00" y="0.60"/>
<use href="#t53" x="0.60" y="0.60"/>
<use href="#t53" x="1.20" y="0.60"/>
</g>
<g fill="#fff" stroke="#fff" stroke-width="0.40" stroke-linejoin="round">
<use href="#t53" x="-0.60"/>
<use href="#t53" x="0.00"/>
<use href="#t53" x="0.60"/>
</g>
<g transform="translate(27.8 410.2) rotate(-90)"><g fill="#1a0008" stroke="#1a0008" stroke-width="1.40" stroke-linejoin="round">
<use href="#t54" x="-0.60" y="0.70"/>
<use href="#t54" x="0.00" y="0.70"/>
<use href="#t54" x="0.60" y="0.70"/>
</g>
<g fill="#fff" stroke="#fff" stroke-width="0.40" stroke-linejoin="round">
<use href="#t54" x="-0.60"/>
<use href="#t54" x="0.00"/>
<use href="#t54" x="0.60"/>
</g>
<g fill="#1a0008" stroke="#1a0008" stroke-width="1.40" stroke-linejoin="round">
<use href="#t55" x="-0.50" y="0.70"/>
<use href="#t55" x="0.00" y="0.70"/>
<use href="#t55" x="0.50" y="0.70"/>
</g>
<g fill="#fff" stroke="#fff" stroke-width="0.40" stroke-linejoin="round">
<use href="#t55" x="-0.50"/>
<use href="#t55" x="0.00"/>
<use href="#t55" x="0.50"/>
</g>
<g fill="#1a0008" stroke="#1a0008" stroke-width="1.40" stroke-linejoin="round">
<use href="#t56" x="-0.60" y="0.70"/>
<use href="#t56" x="0.00" y="0.70"/>
<use href="#t56" x="0.60" y="0.70"/>
</g>
<g fill="#fff" stroke="#fff" stroke-width="0.40" stroke-linejoin="round">
<use href="#t56" x="-0.60"/>
<use href="#t56" x="0.00"/>
<use href="#t56" x="0.60"/>
</g>
<g fill="#1a0008" stroke="#1a0008" stroke-width="1.40" stroke-linejoin="round">
<use href="#t57" x="-0.50" y="0.70"/>
<use href="#t57" x="0.00" y="0.70"/>
<use href="#t57" x="0.50" y="0.70"/>
</g>
<g fill="#fff" stroke="#fff" stroke-width="0.40" stroke-linejoin="round">
<use href="#t57" x="-0.50"/>
<use href="#t57" x="0.00"/>
<use href="#t57" x="0.50"/>
</g></g>
</svg></body></html>
